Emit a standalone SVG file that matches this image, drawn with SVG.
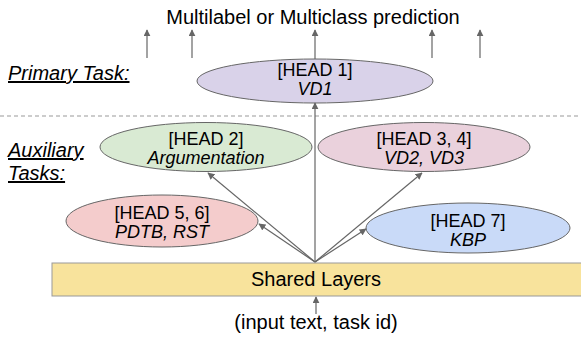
<svg xmlns="http://www.w3.org/2000/svg" width="581" height="338" viewBox="0 0 581 338">
<style>
text{font-family:"Liberation Sans",Arial,sans-serif;fill:#000}
.big{font-size:20px}
.lbl{font-size:20px;font-style:italic;text-decoration:underline}
.h{font-size:18px;text-anchor:middle}
.hi{font-size:18px;text-anchor:middle;font-style:italic}
.node ellipse{stroke:#666;stroke-width:1}
.conn line{stroke:#666;stroke-width:1.2;marker-end:url(#ah)}
</style>
<defs>
<marker id="ah" viewBox="0 0 10 10" refX="9" refY="5" markerWidth="7" markerHeight="7" markerUnits="userSpaceOnUse" orient="auto">
<path d="M0,0 L10,5 L0,10 z" fill="#666"/>
</marker>
</defs>
<rect width="581" height="338" fill="#fff"/>
<text class="big" x="313" y="24" text-anchor="middle">Multilabel or Multiclass prediction</text>
<text class="lbl" x="8" y="80">Primary Task:</text>
<text class="lbl" x="8" y="157">Auxiliary</text>
<text class="lbl" x="8" y="180">Tasks:</text>
<line x1="0" y1="116" x2="581" y2="116" stroke="#999" stroke-width="1" stroke-dasharray="4 3"/>
<g id="shared" class="node">
<rect x="52" y="263" width="535" height="33" fill="#f8e39c" stroke="#999" stroke-width="1"/>
<text class="big" x="316" y="286" text-anchor="middle">Shared Layers</text>
</g>
<g id="head1" class="node">
<ellipse cx="315" cy="81" rx="118" ry="22" fill="#d9d2e9"/>
<text class="h" x="315" y="76">[HEAD 1]</text>
<text class="hi" x="315" y="95">VD1</text>
</g>
<g id="head2" class="node">
<ellipse cx="206" cy="147" rx="106" ry="24.5" fill="#d9ead3"/>
<text class="h" x="206" y="145">[HEAD 2]</text>
<text class="hi" x="206" y="164">Argumentation</text>
</g>
<g id="head34" class="node">
<ellipse cx="424" cy="147" rx="106" ry="24.5" fill="#ead1dc"/>
<text class="h" x="424" y="145">[HEAD 3, 4]</text>
<text class="hi" x="424" y="164">VD2, VD3</text>
</g>
<g id="head56" class="node">
<ellipse cx="162" cy="221" rx="96" ry="26" fill="#f4cccc"/>
<text class="h" x="162" y="219">[HEAD 5, 6]</text>
<text class="hi" x="162" y="238">PDTB, RST</text>
</g>
<g id="head7" class="node">
<ellipse cx="468" cy="228" rx="102" ry="25" fill="#c9daf8"/>
<text class="h" x="468" y="227">[HEAD 7]</text>
<text class="hi" x="468" y="246">KBP</text>
</g>
<text class="big" x="316" y="329" text-anchor="middle">(input text, task id)</text>
<g id="connectors" class="conn">
<line x1="147" y1="58" x2="147" y2="30"/>
<line x1="192" y1="58" x2="192" y2="30"/>
<line x1="315" y1="59" x2="315" y2="30"/>
<line x1="432" y1="58" x2="432" y2="30"/>
<line x1="480" y1="58" x2="480" y2="30"/>
<line x1="315" y1="262" x2="315" y2="103"/>
<line x1="315" y1="262" x2="208" y2="173"/>
<line x1="315" y1="262" x2="422" y2="173"/>
<line x1="315" y1="262" x2="259" y2="224"/>
<line x1="315" y1="262" x2="366" y2="229"/>
<line x1="316" y1="314" x2="316" y2="297"/>
</g>
</svg>
